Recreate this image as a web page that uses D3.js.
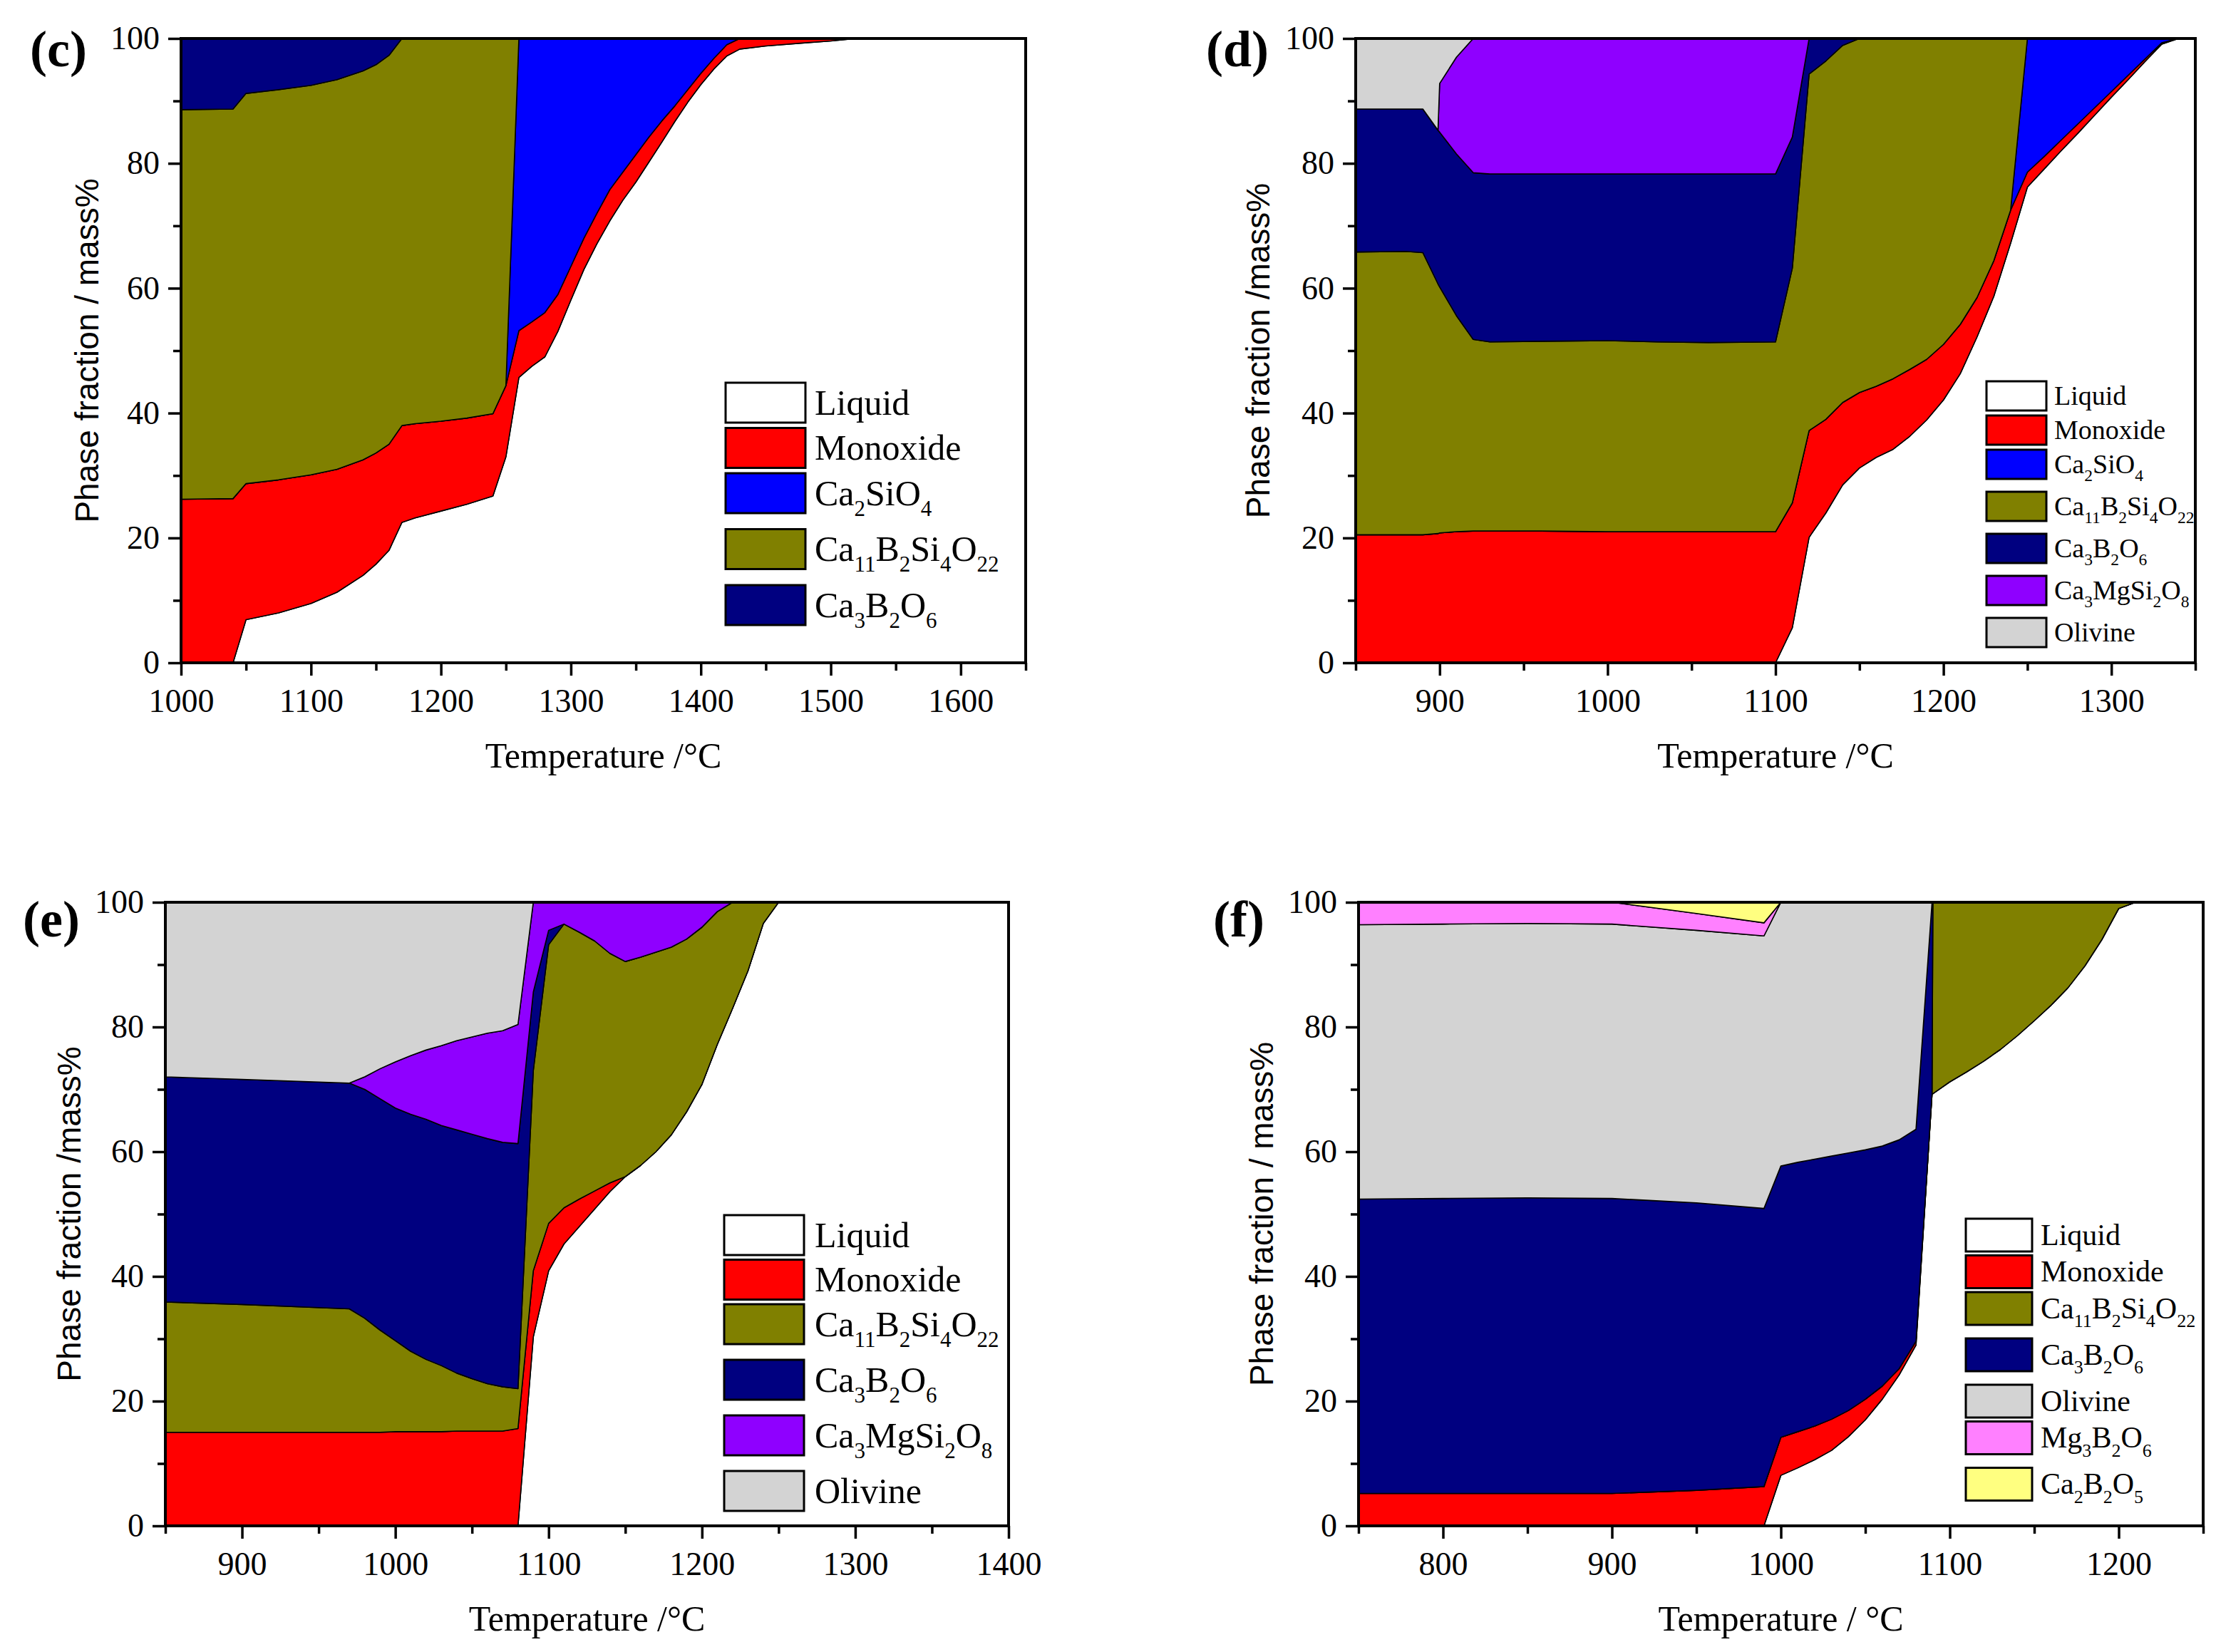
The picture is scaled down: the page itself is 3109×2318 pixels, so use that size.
<!DOCTYPE html>
<html>
<head>
<meta charset="utf-8">
<script src="https://cdn.jsdelivr.net/npm/d3@7"></script>
<style>
body { margin: 0; background: #fff; }
svg { display: block; }
</style>
</head>
<body>
<svg id="chart" width="3109" height="2318"></svg>
<script>
// phase fractions (mass%), per temperature

// panel (c)
var tempC = [1000,1040,1050,1075,1100,1120,1140,1150,1160,1170,1180,1200,1220,1240,1250,1260,1270,1280,1290,1300,1310,1320,1330,1340,1350,1360,1370,1380,1390,1400,1410,1420,1430,1450,1480,1500,1520,1650];
var liquidC = [0,0,6.9,8.0,9.5,11.3,14.0,15.8,18.0,22.5,23.2,24.3,25.4,26.7,33.0,45.7,47.5,49.0,53.1,58.1,63.0,67.1,70.8,74.1,77.0,80.2,83.4,86.7,89.8,92.6,95.1,97.2,98.3,98.8,99.3,99.6,100,100];
var monoxideC = [26.2,26.3,21.8,21.3,20.6,19.7,18.5,17.8,17.0,15.5,15.1,14.4,13.8,13.2,11.4,7.5,7.1,7.1,5.9,5.4,5.0,4.9,5.0,4.5,4.4,4.0,3.4,2.5,2.0,1.8,1.7,1.8,1.7,1.2,0.7,0.4,0,0];
var ca2sio4C = [0,0,0,0,0,0,0,0,0,0,0,0,0,0,0,46.8,45.4,43.9,41.0,36.5,32.0,28.0,24.2,21.4,18.6,15.8,13.2,10.8,8.2,5.6,3.2,1.0,0,0,0,0,0,0];
var ca11C = [62.4,62.4,62.5,62.5,62.4,62.4,62.3,62.2,62.3,62.0,61.7,61.3,60.8,60.1,55.6,0,0,0,0,0,0,0,0,0,0,0,0,0,0,0,0,0,0,0,0,0,0,0];
var ca3b2o6C = [11.4,11.3,8.8,8.2,7.5,6.6,5.2,4.2,2.7,0,0,0,0,0,0,0,0,0,0,0,0,0,0,0,0,0,0,0,0,0,0,0,0,0,0,0,0,0];

// panel (d)
var tempD = [850,880,890,899,900,910,920,930,960,1000,1030,1060,1100,1110,1120,1130,1140,1150,1160,1170,1180,1190,1200,1210,1220,1230,1240,1250,1260,1270,1280,1290,1300,1310,1320,1330,1340,1350];
var liquidD = [0,0,0,0,0,0,0,0,0,0,0,0,0,5.6,20.1,24.0,28.5,31.2,32.9,34.2,36.3,38.9,42.1,46.3,52.2,58.7,67.2,76.2,79.1,82.0,84.8,87.7,90.6,93.4,96.3,99.1,100,100];
var monoxideD = [20.5,20.5,20.5,20.7,20.8,21.0,21.1,21.1,21.1,21.0,21.0,21.0,21.0,20.0,17.1,15.0,13.2,12.1,11.4,11.3,10.7,9.7,8.9,7.9,6.3,5.7,5.3,2.4,2.0,1.7,1.5,1.2,0.9,0.7,0.4,0.2,0,0];
var ca2sio4D = [0,0,0,0,0,0,0,0,0,0,0,0,0,0,0,0,0,0,0,0,0,0,0,0,0,0,0,21.4,18.9,16.3,13.7,11.1,8.5,5.9,3.3,0.7,0,0];
var ca11D = [45.3,45.4,45.2,40.0,39.4,34.6,30.7,30.3,30.4,30.6,30.4,30.3,30.4,37.6,57.1,57.4,57.2,56.7,55.7,54.5,53.0,51.4,49.0,45.8,41.5,35.6,27.5,0,0,0,0,0,0,0,0,0,0,0];
var ca3b2o6D = [22.9,22.8,23.0,24.6,24.8,25.9,26.7,26.9,26.8,26.7,26.9,27.0,26.9,21.0,5.7,3.6,1.1,0,0,0,0,0,0,0,0,0,0,0,0,0,0,0,0,0,0,0,0,0];
var ca3mgD = [0,0,0,0,7.8,15.5,21.5,21.7,21.7,21.7,21.7,21.7,21.7,15.8,0,0,0,0,0,0,0,0,0,0,0,0,0,0,0,0,0,0,0,0,0,0,0,0];
var olivineD = [11.3,11.3,11.3,14.7,7.2,3.0,0,0,0,0,0,0,0,0,0,0,0,0,0,0,0,0,0,0,0,0,0,0,0,0,0,0,0,0,0,0,0,0];

// panel (e)
var tempE = [850,900,970,980,990,1000,1010,1020,1030,1040,1050,1060,1070,1080,1090,1100,1110,1120,1130,1140,1150,1160,1170,1180,1190,1200,1210,1220,1230,1240,1250,1400];
var liquidE = [0,0,0,0,0,0,0,0,0,0,0,0,0,0,30.3,40.9,45.2,48.0,50.8,53.6,56.0,57.8,60.0,62.7,66.4,70.8,77.2,83.0,89.0,96.6,100,100];
var monoxideE = [15.0,15.0,15.0,15.0,15.0,15.1,15.1,15.1,15.1,15.2,15.2,15.2,15.2,15.6,10.6,7.6,5.8,4.4,2.9,1.4,0,0,0,0,0,0,0,0,0,0,0,0];
var ca11E = [20.9,20.5,19.8,18.3,16.4,14.6,12.9,11.6,10.6,9.3,8.4,7.6,7.1,6.4,32.1,44.7,45.5,42.8,40.1,36.8,34.5,33.4,32.0,30.1,27.7,25.2,21.3,17.0,11.0,3.4,0,0];
var ca3b2o6E = [36.1,36.1,36.2,36.7,37.1,37.3,38.0,38.5,38.5,39.0,39.2,39.3,39.2,39.3,12.6,2.3,0,0,0,0,0,0,0,0,0,0,0,0,0,0,0,0];
var ca3mgE = [0,0,0,2.0,4.8,7.4,9.4,11.1,12.8,14.3,15.6,16.9,17.9,19.1,14.4,4.5,3.5,4.8,6.2,8.2,9.5,8.8,8.0,7.2,5.9,4.0,1.5,0,0,0,0,0];
var olivineE = [28.0,28.4,29.0,28.0,26.7,25.6,24.6,23.7,23.0,22.2,21.6,21.0,20.6,19.6,0,0,0,0,0,0,0,0,0,0,0,0,0,0,0,0,0,0];

// panel (f)
var tempF = [750,800,850,900,950,990,1000,1010,1020,1030,1040,1050,1060,1070,1080,1089.5,1090,1100,1110,1120,1130,1140,1150,1160,1170,1180,1190,1200,1210,1250];
var liquidF = [0,0,0,0,0,0,8.1,9.3,10.6,12.1,14.3,17.0,20.3,24.2,29.0,69.3,69.3,71.2,72.8,74.5,76.4,78.6,81.0,83.5,86.3,89.8,94.0,99.0,100,100];
var monoxideF = [5.2,5.2,5.2,5.2,5.7,6.3,6.1,5.8,5.4,5.0,4.2,3.3,2.1,1.0,0.6,0,0,0,0,0,0,0,0,0,0,0,0,0,0,0];
var ca11F = [0,0,0,0,0,0,0,0,0,0,0,0,0,0,0,0,30.7,28.8,27.2,25.5,23.6,21.4,19.0,16.5,13.7,10.2,6.0,1.0,0,0];
var ca3b2o6F = [47.2,47.3,47.4,47.3,46.1,44.6,43.5,43.2,42.8,42.2,41.3,40.0,38.5,36.7,34.0,30.7,0,0,0,0,0,0,0,0,0,0,0,0,0,0];
var olivineF = [44.0,44.0,44.0,44.0,43.7,43.7,42.3,41.7,41.2,40.7,40.2,39.7,39.1,38.1,36.4,0,0,0,0,0,0,0,0,0,0,0,0,0,0,0];
var mg3b2o6F = [3.6,3.5,3.4,3.5,2.7,2.1,0,0,0,0,0,0,0,0,0,0,0,0,0,0,0,0,0,0,0,0,0,0,0,0];
var ca2b2o5F = [0,0,0,0,1.8,3.3,0,0,0,0,0,0,0,0,0,0,0,0,0,0,0,0,0,0,0,0,0,0,0,0];

// tick labels
var yTicks = [0,20,40,60,80,100];
var yMinor = [10,30,50,70,90];
var xTicksC = [1000,1100,1200,1300,1400,1500,1600];
var xMinorC = [1050,1150,1250,1350,1450,1550,1650];
var xTicksD = [900,1000,1100,1200,1300];
var xMinorD = [850,950,1050,1150,1250,1350];
var xTicksE = [900,1000,1100,1200,1300,1400];
var xMinorE = [850,950,1050,1150,1250,1350];
var xTicksF = [800,900,1000,1100,1200];
var xMinorF = [750,850,950,1050,1150,1250];

var phaseLabel = {
  liquid: "Liquid", monoxide: "Monoxide", ca2sio4: "Ca2SiO4", ca11: "Ca11B2Si4O22",
  ca3b2o6: "Ca3B2O6", ca3mg: "Ca3MgSi2O8", olivine: "Olivine", mg3b2o6: "Mg3B2O6", ca2b2o5: "Ca2B2O5"
};
var phaseColor = {
  liquid: "#ffffff", monoxide: "#ff0000", ca2sio4: "#0000ff", ca11: "#808000",
  ca3b2o6: "#000080", ca3mg: "#8f00ff", olivine: "#d3d3d3", mg3b2o6: "#ff80ff", ca2b2o5: "#ffff80"
};

var serif = "'Liberation Serif', 'Times New Roman', serif";
var sans = "'Liberation Sans', Arial, sans-serif";

var panels = [
  { id: "c", tag: "(c)", temps: tempC, xDomain: [1000,1650], ticks: xTicksC, minor: xMinorC,
    series: { liquid: liquidC, monoxide: monoxideC, ca2sio4: ca2sio4C, ca11: ca11C, ca3b2o6: ca3b2o6C },
    keys: ["liquid","monoxide","ca2sio4","ca11","ca3b2o6"],
    box: [254,1439,54,930], xTitle: "Temperature /\u00b0C", yTitle: "Phase fraction / mass%",
    tagPos: [42,93], yTitleX: 138,
    legend: { x: 1018, y: 537, w: 112, h: 56, step: 63.5, subStep: 78.5, tx: 1143, size: 50 } },
  { id: "d", tag: "(d)", temps: tempD, xDomain: [850,1350], ticks: xTicksD, minor: xMinorD,
    series: { liquid: liquidD, monoxide: monoxideD, ca2sio4: ca2sio4D, ca11: ca11D, ca3b2o6: ca3b2o6D, ca3mg: ca3mgD, olivine: olivineD },
    keys: ["liquid","monoxide","ca2sio4","ca11","ca3b2o6","ca3mg","olivine"],
    box: [1902,3080,54,930], xTitle: "Temperature /\u00b0C", yTitle: "Phase fraction /mass%",
    tagPos: [1692,93], yTitleX: 1781,
    legend: { x: 2787, y: 535, w: 84, h: 41, step: 48, subStep: 59, tx: 2882, size: 38 } },
  { id: "e", tag: "(e)", temps: tempE, xDomain: [850,1400], ticks: xTicksE, minor: xMinorE,
    series: { liquid: liquidE, monoxide: monoxideE, ca11: ca11E, ca3b2o6: ca3b2o6E, ca3mg: ca3mgE, olivine: olivineE },
    keys: ["liquid","monoxide","ca11","ca3b2o6","ca3mg","olivine"],
    box: [232,1415,1266,2141], xTitle: "Temperature /\u00b0C", yTitle: "Phase fraction /mass%",
    tagPos: [32,1314], yTitleX: 113,
    legend: { x: 1016, y: 1705, w: 112, h: 56, step: 62.5, subStep: 78, tx: 1143, size: 50 } },
  { id: "f", tag: "(f)", temps: tempF, xDomain: [750,1250], ticks: xTicksF, minor: xMinorF,
    series: { liquid: liquidF, monoxide: monoxideF, ca11: ca11F, ca3b2o6: ca3b2o6F, olivine: olivineF, mg3b2o6: mg3b2o6F, ca2b2o5: ca2b2o5F },
    keys: ["liquid","monoxide","ca11","ca3b2o6","olivine","mg3b2o6","ca2b2o5"],
    box: [1906,3091,1266,2141], xTitle: "Temperature / \u00b0C", yTitle: "Phase fraction / mass%",
    tagPos: [1702,1314], yTitleX: 1786,
    legend: { x: 2758, y: 1710, w: 93, h: 46, step: 51.5, subStep: 65, tx: 2863, size: 42 } }
];

var svg = d3.select("#chart");

// writes a formula like Ca11B2Si4O22 with the digits as subscripts
function formula(text, label, size) {
  var shift = size * 0.3;
  var down = false;
  label.split(/(\d+)/).forEach(function(part) {
    if (part === "") return;
    var isSub = /^\d+$/.test(part);
    var t = text.append("tspan").text(part);
    if (isSub) {
      t.attr("font-size", size * 0.62).attr("dy", down ? 0 : shift);
      down = true;
    } else {
      t.attr("font-size", size).attr("dy", down ? -shift : 0);
      down = false;
    }
  });
}

function drawPanel(p) {
  var left = p.box[0], right = p.box[1], top = p.box[2], bottom = p.box[3];
  var x = d3.scaleLinear().domain(p.xDomain).range([left, right]);
  var y = d3.scaleLinear().domain([0, 100]).range([bottom, top]);

  var rows = p.temps.map(function(t, i) {
    var r = { t: t };
    p.keys.forEach(function(k) { r[k] = p.series[k][i]; });
    return r;
  });
  var stacked = d3.stack().keys(p.keys)(rows);

  var area = d3.area()
      .x(function(d) { return x(d.data.t); })
      .y0(function(d) { return y(d[0]); })
      .y1(function(d) { return y(d[1]); });

  var g = svg.append("g");
  g.append("clipPath").attr("id", "clip-" + p.id)
    .append("rect")
      .attr("x", left).attr("y", top)
      .attr("width", right - left).attr("height", bottom - top);

  g.append("g")
      .attr("clip-path", "url(#clip-" + p.id + ")")
    .selectAll("path")
    .data(stacked)
    .join("path")
      .attr("d", area)
      .attr("fill", function(d) { return phaseColor[d.key]; })
      .attr("stroke", "#000")
      .attr("stroke-width", 1.6)
      .attr("stroke-linejoin", "round");

  // axes
  g.append("g")
      .attr("transform", "translate(0," + bottom + ")")
      .call(d3.axisBottom(x).tickValues(p.ticks).tickSize(18).tickPadding(18).tickFormat(d3.format("d")));
  g.append("g")
      .attr("transform", "translate(0," + bottom + ")")
      .call(d3.axisBottom(x).tickValues(p.minor).tickSize(11).tickFormat(""));
  g.append("g")
      .attr("transform", "translate(" + left + ",0)")
      .call(d3.axisLeft(y).tickValues(yTicks).tickSize(18).tickPadding(12));
  g.append("g")
      .attr("transform", "translate(" + left + ",0)")
      .call(d3.axisLeft(y).tickValues(yMinor).tickSize(11).tickFormat(""));

  g.selectAll(".domain").remove();
  g.selectAll(".tick line").attr("stroke", "#000").attr("stroke-width", 3.5);
  g.selectAll(".tick text")
      .attr("fill", "#000")
      .style("font-family", serif)
      .style("font-size", "46px");

  g.append("rect")
      .attr("x", left).attr("y", top)
      .attr("width", right - left).attr("height", bottom - top)
      .attr("fill", "none")
      .attr("stroke", "#000")
      .attr("stroke-width", 4);

  // titles
  g.append("text")
      .attr("x", (left + right) / 2)
      .attr("y", bottom + 147)
      .attr("text-anchor", "middle")
      .style("font-family", serif)
      .style("font-size", "50px")
      .text(p.xTitle);

  g.append("text")
      .attr("transform", "translate(" + p.yTitleX + "," + ((top + bottom) / 2) + ") rotate(-90)")
      .attr("text-anchor", "middle")
      .style("font-family", sans)
      .style("font-size", "46px")
      .text(p.yTitle);

  g.append("text")
      .attr("x", p.tagPos[0])
      .attr("y", p.tagPos[1])
      .style("font-family", serif)
      .style("font-size", "72px")
      .style("font-weight", "bold")
      .text(p.tag);

  // legend
  var lg = p.legend;
  var rowY = lg.y;
  p.keys.forEach(function(k) {
    var label = phaseLabel[k];
    var hasSub = /\d/.test(label);
    g.append("rect")
        .attr("x", lg.x).attr("y", rowY)
        .attr("width", lg.w).attr("height", lg.h)
        .attr("fill", phaseColor[k])
        .attr("stroke", "#000")
        .attr("stroke-width", 3);
    var t = g.append("text")
        .attr("x", lg.tx)
        .attr("y", rowY + lg.h / 2 + lg.size * 0.33)
        .style("font-family", serif)
        .style("font-size", lg.size + "px");
    formula(t, label, lg.size);
    rowY += hasSub ? lg.subStep : lg.step;
  });
}

panels.forEach(drawPanel);
</script>
</body>
</html>
